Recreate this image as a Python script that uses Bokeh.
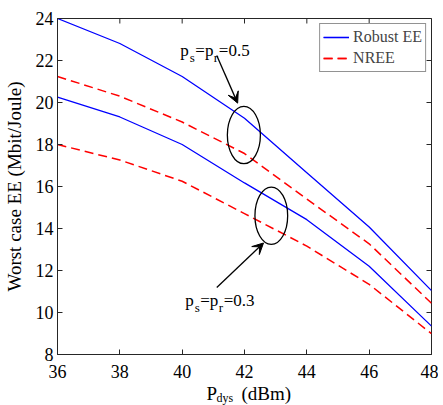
import math
from bokeh.plotting import figure
from bokeh.models import (Range1d, Label, Arrow, VeeHead, Legend,
                          LegendItem, FixedTicker)
from bokeh.embed import file_html
from bokeh.resources import INLINE

# ---- data ----
p_dys = [36, 38, 40, 42, 44, 46, 48]
robust_05 = [24.0, 22.81, 21.24, 19.25, 16.66, 14.07, 11.04]
nree_05 = [21.24, 20.3, 19.07, 17.57, 15.4, 13.27, 10.44]
robust_03 = [20.26, 19.31, 18.0, 16.17, 14.42, 12.2, 9.35]
nree_03 = [18.0, 17.26, 16.25, 14.71, 13.16, 11.34, 8.99]
x_ticks = [36, 38, 40, 42, 44, 46, 48]
y_ticks = [8, 10, 12, 14, 16, 18, 20, 22, 24]
x_lim = [36, 48]
y_lim = [8, 24]

# annotation geometry (data units)
ell_x = [41.98, 42.86]
ell_y = [18.45, 14.61]
ell_w = [1.06, 1.05]
ell_h = [2.73, 2.73]

FONT = "Liberation Serif"
AX = "#262626"

p = figure(frame_width=374, frame_height=336, output_backend="svg",
           toolbar_location=None, x_range=Range1d(*x_lim), y_range=Range1d(*y_lim),
           min_border_left=51, min_border_top=18, min_border_right=7,
           min_border_bottom=51)
p.xgrid.visible = False
p.ygrid.visible = False
p.outline_line_color = AX
p.outline_line_width = 1

for ax in (p.xaxis[0], p.yaxis[0]):
    ax.major_label_text_font = FONT
    ax.major_label_text_font_size = "18px"
    ax.major_label_text_color = "black"
    ax.axis_line_color = AX
    ax.major_tick_line_color = AX
    ax.major_tick_in = 5
    ax.major_tick_out = 0
    ax.minor_tick_line_color = None
    ax.axis_label_text_font = FONT
    ax.axis_label_text_font_size = "19px"
    ax.axis_label_text_font_style = "normal"
    ax.axis_label_text_color = "black"

p.xaxis[0].ticker = FixedTicker(ticks=x_ticks)
p.yaxis[0].ticker = FixedTicker(ticks=y_ticks)
p.xaxis[0].major_label_standoff = 10
p.yaxis[0].major_label_standoff = 4
p.yaxis[0].axis_label = "Worst case EE (Mbit/Joule)"
p.yaxis[0].axis_label_standoff = 8

# inward box ticks on top / right edges (half of each dash is clipped by the frame)
p.scatter(x=x_ticks, y=[y_lim[1]] * len(x_ticks), marker="dash", size=10,
          angle=math.pi / 2, line_color=AX, line_width=1)
p.scatter(x=[x_lim[1]] * len(y_ticks), y=y_ticks, marker="dash", size=10,
          line_color=AX, line_width=1)

r1 = p.line(p_dys, robust_05, line_color="blue", line_width=1.3)
r2 = p.line(p_dys, nree_05, line_color="red", line_width=1.5, line_dash="9 5")
r3 = p.line(p_dys, robust_03, line_color="blue", line_width=1.3)
r4 = p.line(p_dys, nree_03, line_color="red", line_width=1.5, line_dash="9 5")

p.ellipse(x=ell_x, y=ell_y, width=ell_w, height=ell_h, fill_color=None,
          line_color="black", line_width=1.3)

p.add_layout(Arrow(end=VeeHead(size=11, fill_color="black", line_color="black"),
                   x_start=41.11, y_start=22.24, x_end=41.78, y_end=19.97,
                   line_color="black", line_width=1.3))
p.add_layout(Arrow(end=VeeHead(size=11, fill_color="black", line_color="black"),
                   x_start=41.11, y_start=11.19, x_end=42.61, y_end=13.31,
                   line_color="black", line_width=1.3))


def sub_text(x, y, parts):
    # parts: list of (text, x_offset_px, is_sub)
    for txt, dx, sub in parts:
        p.add_layout(Label(x=x, y=y, x_offset=dx, y_offset=(-7 if sub else 0),
                           text=txt, text_font=FONT,
                           text_font_size=("13px" if sub else "17px"),
                           text_color="black", text_baseline="alphabetic"))


sub_text(39.94, 22.48, [("p", 0, False), ("s", 9.5, True), ("=p", 15, False),
                        ("r", 33.5, True), ("=0.5", 38.5, False)])
sub_text(40.10, 10.58, [("p", 0, False), ("s", 9.5, True), ("=p", 15, False),
                        ("r", 33.5, True), ("=0.3", 38.5, False)])

# x-axis label with subscript, placed in the panel below the frame (not clipped)
for txt, dx, dy, fs in (("P", 0, -39, "19px"), ("dys", 10, -43, "12px"),
                        ("(dBm)", 35, -39, "19px")):
    p.add_layout(Label(x=40.78, y=y_lim[0], x_offset=dx, y_offset=dy, text=txt,
                       text_font=FONT, text_font_size=fs, text_color="black",
                       text_baseline="alphabetic"), "below")

legend = Legend(items=[LegendItem(label="Robust EE", renderers=[r1, r3]),
                       LegendItem(label="NREE", renderers=[r2, r4])],
                location="top_right", margin=5, padding=3, spacing=1,
                glyph_width=26, glyph_height=20, label_height=20,
                label_standoff=4, label_text_font=FONT, label_text_font_size="16px",
                border_line_color=AX, border_line_width=1, background_fill_alpha=1)
p.add_layout(legend)

open("out.html", "w").write(file_html(p, INLINE))
